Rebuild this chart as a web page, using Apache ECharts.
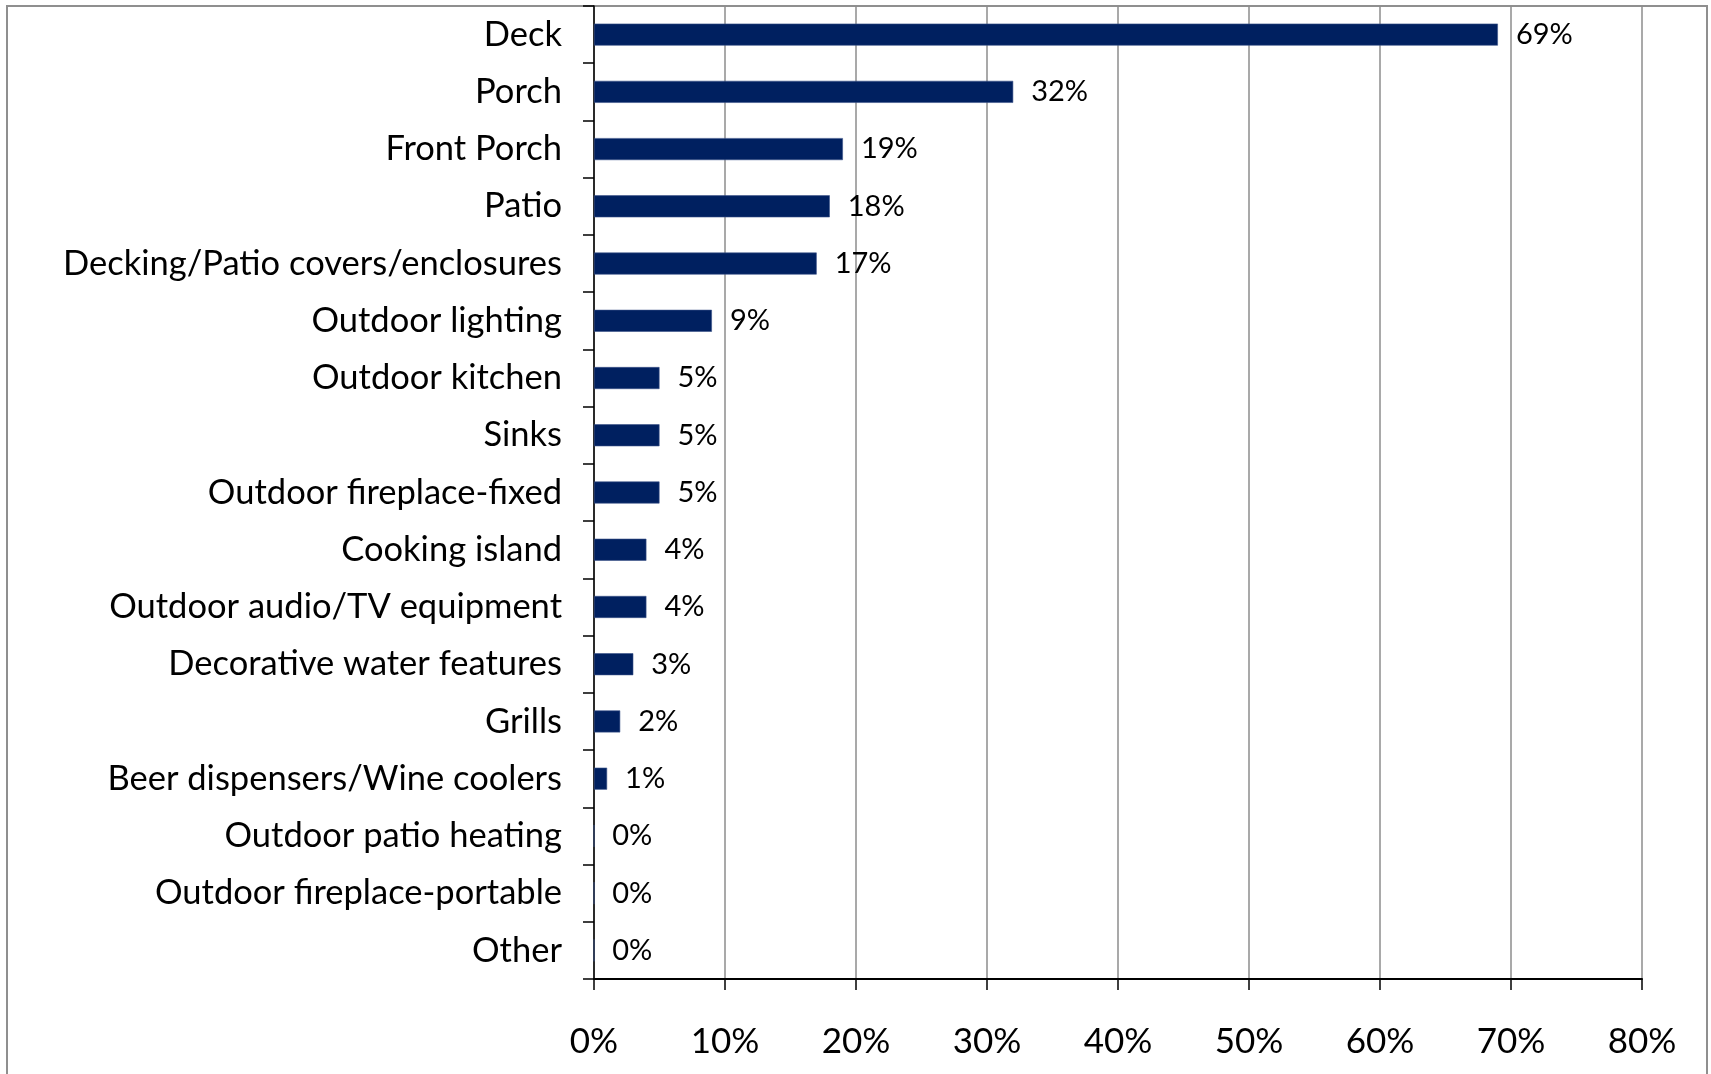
<!DOCTYPE html>
<html>
<head>
<meta charset="utf-8">
<style>
  html, body { margin: 0; padding: 0; background: #ffffff; }
  #chart { width: 1711px; height: 1074px; }
</style>
<script src="https://cdn.jsdelivr.net/npm/echarts@6/dist/echarts.min.js"></script>
</head>
<body>
<div id="chart"></div>
<script>
// Outdoor features, share of respondents (%)
const categories = [
  'Deck', 'Porch', 'Front Porch', 'Patio', 'Decking/Patio covers/enclosures',
  'Outdoor lighting', 'Outdoor kitchen', 'Sinks', 'Outdoor fireplace-fixed',
  'Cooking island', 'Outdoor audio/TV equipment', 'Decorative water features',
  'Grills', 'Beer dispensers/Wine coolers', 'Outdoor patio heating',
  'Outdoor fireplace-portable', 'Other'
];
const shares = [69, 32, 19, 18, 17, 9, 5, 5, 5, 4, 4, 3, 2, 1, 0, 0, 0];
const xTicks = [0, 10, 20, 30, 40, 50, 60, 70, 80];

const FONT = 'Lato, "Open Sans", sans-serif';
const chart = echarts.init(document.getElementById('chart'));

chart.setOption({
  animation: false,
  backgroundColor: '#ffffff',
  graphic: [{
    type: 'rect',
    shape: { x: 7, y: 6, width: 1700, height: 1100 },
    style: { fill: 'none', stroke: '#8f8f8f', lineWidth: 2 },
    silent: true,
    z: 0
  }],
  grid: { left: 594, right: 69, top: 6, bottom: 95, containLabel: false },
  xAxis: {
    type: 'value',
    min: xTicks[0],
    max: xTicks[xTicks.length - 1],
    interval: xTicks[1] - xTicks[0],
    axisLine: { show: true, lineStyle: { color: '#000000', width: 2 } },
    axisTick: { show: true, length: 11, lineStyle: { color: '#000000', width: 1.5 } },
    splitLine: { show: true, lineStyle: { color: '#8c8c8c', width: 1.5 } },
    axisLabel: {
      margin: 45,
      fontFamily: FONT,
      fontSize: 35,
      color: '#000000',
      formatter: v => v + '%'
    }
  },
  yAxis: {
    type: 'category',
    inverse: true,
    data: categories,
    axisLine: { show: true, lineStyle: { color: '#000000', width: 1.5 } },
    axisTick: { show: true, length: 11, lineStyle: { color: '#000000', width: 1.5 } },
    axisLabel: {
      margin: 32,
      fontFamily: FONT,
      fontSize: 34.5,
      color: '#000000',
      padding: [4, 0, 0, 0]
    }
  },
  series: [{
    type: 'bar',
    data: shares,
    barWidth: 22,
    itemStyle: { color: '#002060', borderColor: '#3b5288', borderWidth: 0.6 },
    label: {
      show: true,
      position: 'right',
      distance: 18,
      fontFamily: FONT,
      fontSize: 29,
      color: '#000000',
      padding: [3, 0, 0, 0],
      formatter: p => p.value + '%'
    },
    z: 3
  }]
});
</script>
</body>
</html>
